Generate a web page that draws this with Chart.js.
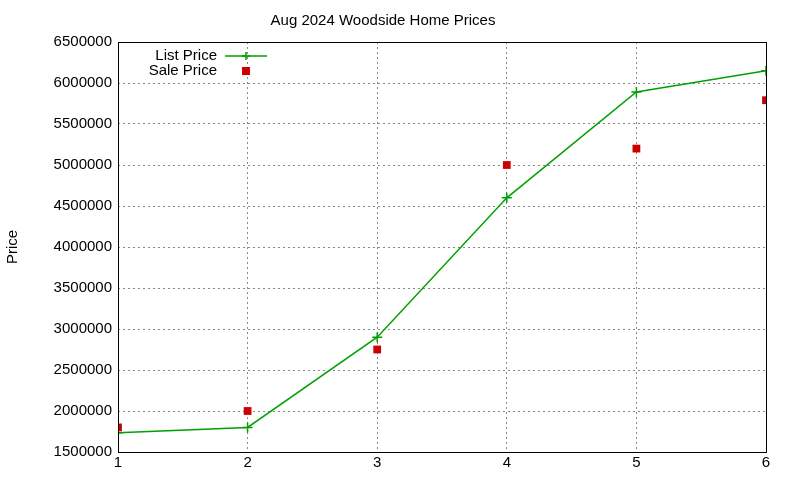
<!DOCTYPE html>
<html><head><meta charset="utf-8">
<script src="https://cdn.jsdelivr.net/npm/chart.js@4"></script>
<style>html,body{margin:0;padding:0;background:#fff}#w{width:800px;height:480px}</style>
</head><body><div id="w"><canvas id="c"></canvas></div>
<script>
const xValues = [1, 2, 3, 4, 5, 6];
const listPrice = [1735000, 1800000, 2900000, 4600000, 5890000, 6150000];
const salePrice = [1800000, 2000000, 2750000, 5000000, 5200000, 5790000];
const titleText = 'Aug 2024 Woodside Home Prices';

const FONT = 'Liberation Sans, Arial, sans-serif';
Chart.defaults.font.family = FONT;
Chart.defaults.color = '#000';

const legendPlugin = {
  id: 'gpLegend',
  afterDraw(chart) {
    const ctx = chart.ctx;
    ctx.save();
    ctx.font = '15px ' + FONT;
    ctx.fillStyle = '#000';
    ctx.textAlign = 'right';
    ctx.textBaseline = 'middle';
    ctx.fillText('List Price', 217, 56);
    ctx.fillText('Sale Price', 217, 71);
    ctx.strokeStyle = '#00a000';
    ctx.lineWidth = 1.5;
    ctx.beginPath(); ctx.moveTo(225, 56); ctx.lineTo(267, 56); ctx.stroke();
    ctx.beginPath(); ctx.moveTo(246, 52); ctx.lineTo(246, 60); ctx.moveTo(242, 56); ctx.lineTo(250, 56); ctx.stroke();
    ctx.fillStyle = '#cc0000';
    ctx.fillRect(242, 67, 8, 8);
    ctx.restore();
  }
};

const boxPlugin = {
  id: 'box',
  afterDraw(chart) {
    const a = chart.chartArea, ctx = chart.ctx;
    ctx.save(); ctx.strokeStyle = '#000'; ctx.lineWidth = 1;
    ctx.strokeRect(a.left + 0.5, a.top + 0.5, a.right - a.left, a.bottom - a.top);
    ctx.restore();
  }
};

new Chart(document.getElementById('c'), {
  type: 'scatter',
  data: {
    datasets: [
      { label: 'List Price', data: xValues.map((x, i) => ({x, y: listPrice[i]})), showLine: true,
        borderColor: '#00a000', backgroundColor: '#00a000', borderWidth: 1.5,
        pointStyle: 'cross', pointRadius: 5, pointBorderWidth: 1.5 },
      { label: 'Sale Price', data: xValues.map((x, i) => ({x, y: salePrice[i]})), showLine: false,
        borderColor: '#cc0000', backgroundColor: '#cc0000',
        pointStyle: 'rect', pointRadius: 5.5, pointBorderWidth: 0 }
    ]
  },
  options: {
    responsive: true, maintainAspectRatio: false, animation: false,
    layout: { padding: { top: 8, right: 34, bottom: 6, left: 0 } },
    plugins: {
      legend: { display: false }, tooltip: { enabled: false },
      title: { display: true, text: titleText, font: { size: 15, weight: 'normal' }, padding: { top: 4, bottom: 12 } }
    },
    scales: {
      x: { type: 'linear', min: 1, max: 6,
        ticks: { stepSize: 1, font: { size: 15 }, padding: 2 },
        grid: { color: '#888', drawTicks: false },
        border: { display: false, dash: [2, 3] } },
      y: { min: 1500000, max: 6500000,
        afterFit(s) { s.width = 118; },
        ticks: { stepSize: 500000, font: { size: 15 }, padding: 6, callback: v => String(v) },
        grid: { color: '#888', drawTicks: false },
        border: { display: false, dash: [2, 3] },
        title: { display: true, text: 'Price', font: { size: 15 }, padding: { bottom: 10 } } }
    }
  },
  plugins: [legendPlugin, boxPlugin]
});
</script></body></html>
